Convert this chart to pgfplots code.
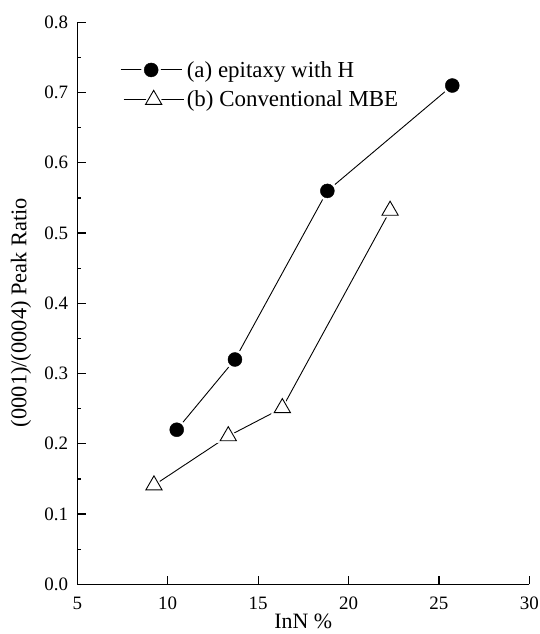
\documentclass[border=0pt]{standalone}
\usepackage{pgfplots}
\usepackage{pgfplotstable}
\pgfplotsset{compat=1.18}
\usepackage{fontspec}
\setmainfont{Liberation Serif}

\pgfplotstableread{
x y
10.50 0.220
13.72 0.320
18.83 0.560
25.74 0.710
}\seriesA
\pgfplotstableread{
x y
9.24 0.141
13.35 0.211
16.34 0.251
22.30 0.532
}\seriesB

\begin{document}
\begin{tikzpicture}
\begin{axis}[
  scale only axis,
  width=452bp, height=562bp,
  xmin=5, xmax=30, ymin=0, ymax=0.8,
  axis lines=left,
  axis line style={-, line width=1.6bp},
  xtick={5,10,...,30},
  ytick={0,0.1,...,0.8},
  minor y tick num=1,
  tick align=inside,
  major tick length=8.7bp,
  minor tick length=4bp,
  every tick/.style={black, line width=1.2bp},
  /pgf/number format/assume math mode=true,
  yticklabel style={/pgf/number format/.cd, fixed, fixed zerofill, precision=1, /tikz/.cd, anchor=east, inner sep=0pt, xshift=-9bp, font=\fontsize{19}{22}\selectfont},
  xticklabel style={anchor=north, inner sep=0pt, yshift=-12.4bp, font=\fontsize{19}{22}\selectfont},
  xlabel={InN \%},
  ylabel={(0001)/(0004) Peak Ratio},
  every axis x label/.style={at={(rel axis cs:0.5,0)}, yshift=-37.5bp, anchor=center, font=\fontsize{22}{26}\selectfont},
  every axis y label/.style={at={(rel axis cs:0,0.4836)}, xshift=-56.3bp, rotate=90, anchor=center, font=\fontsize{22.5}{26}\selectfont},
  legend style={at={(rel axis cs:0.0945,0.933)}, anchor=north west, draw=none, fill=none, inner sep=0pt, row sep=7bp,
    font=\fontsize{23}{26}\selectfont, nodes={inner sep=0pt, anchor=west}},
  legend cell align=left,
  clip=false,
]
% series (a)
\addplot[black, line width=0.9bp, forget plot] table[x=x,y=y] {\seriesA};
\addplot[only marks, mark=*, mark size=9.6bp, draw=white, fill=white, forget plot] table[x=x,y=y] {\seriesA};
\addplot[only marks, mark=*, mark size=7bp, draw=black, fill=black, forget plot] table[x=x,y=y] {\seriesA};
% series (b)
\addplot[black, line width=0.9bp, forget plot] table[x=x,y=y] {\seriesB};
\addplot[only marks, mark=triangle*, mark size=13bp, draw=white, fill=white, forget plot] table[x=x,y=y] {\seriesB};
\addplot[only marks, mark=triangle, mark size=9.4bp, draw=black, mark options={fill=white, line width=0.9bp}, forget plot] table[x=x,y=y] {\seriesB};

\addlegendimage{legend image code/.code={
  \draw[black, line width=0.9bp] (0bp,0bp) -- (61bp,0bp);
  \fill[white] (30.5bp,0bp) circle (9.6bp);
  \fill[black] (30.5bp,0bp) circle (7bp);
  \path (66bp,0bp);
}}
\addlegendentry{(a) epitaxy with H}
\addlegendimage{legend image code/.code={
  \draw[black, line width=0.9bp] (3bp,0bp) -- (63bp,0bp);
  \path[draw=white, fill=white, mark=triangle*, mark size=13bp] plot coordinates {(33bp,0bp)};
  \path[draw=black, fill=white, line width=0.9bp, mark=triangle, mark size=9.4bp, mark options={fill=white}] plot coordinates {(33bp,0bp)};
  \path (66bp,0bp);
}}
\addlegendentry{(b) Conventional MBE}
\end{axis}
\pgfresetboundingbox
\path ([shift={(-77.3bp,-49.7bp)}]current axis.south west) rectangle ([shift={(9.7bp,22.3bp)}]current axis.north east);
\end{tikzpicture}
\end{document}
